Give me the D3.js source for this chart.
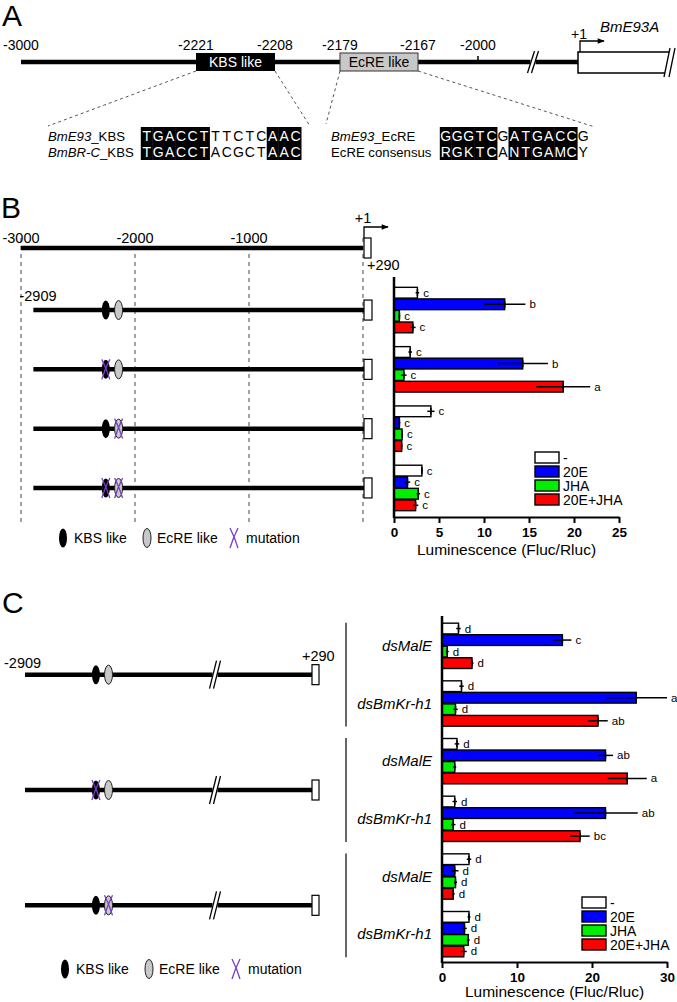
<!DOCTYPE html>
<html><head><meta charset="utf-8">
<script src="https://cdn.jsdelivr.net/npm/d3@7"></script>
<style>body{margin:0;background:#fff} svg{display:block}</style>
</head><body>
<svg id="fig" width="677" height="1002"></svg>
<script>
// ================= DATA =================
const seriesNames = ["-", "20E", "JHA", "20E+JHA"];
const seriesColors = ["#ffffff", "#0000ff", "#00ee00", "#ff0000"];

// Panel A map
const mapTicks = [-3000, -2221, -2208, -2179, -2167, -2000];
const kbsLabels = [["BmE93", "_KBS"], ["BmBR-C", "_KBS"]];
const kbsSeqs = ["TGACCTTTCTCAAC", "TGACCTACGCTAAC"];
const kbsHighlight = [0, 1, 2, 3, 4, 5, 11, 12, 13];
const ecreLabels = [["BmE93", "_EcRE"], ["", "EcRE consensus"]];
const ecreSeqs = ["GGGTCGATGACCG", "RGKTCANTGAMCY"];
const ecreHighlight = [0, 1, 2, 3, 4, 6, 7, 8, 9, 10, 11];

// Panel B
const bMapTicks = [-3000, -2000, -1000];
const bMutations = [[false, false], [true, false], [false, true], [true, true]];
const bMean = [
  [2.6, 12.3, 0.6, 2.1],
  [1.8, 14.3, 1.1, 18.8],
  [4.1, 0.6, 0.9, 0.85],
  [3.1, 1.5, 2.7, 2.4]
];
const bErr = [
  [0.2, 2.3, 0.1, 0.3],
  [0.2, 2.8, 0.3, 3.0],
  [0.4, 0.1, 0.1, 0.1],
  [0.1, 0.3, 0.2, 0.3]
];
const bLetters = [
  ["c", "b", "c", "c"],
  ["c", "b", "c", "a"],
  ["c", "c", "c", "c"],
  ["c", "c", "c", "c"]
];
const bTicks = [0, 5, 10, 15, 20, 25];

// Panel C
const cGroups = ["dsMalE", "dsBmKr-h1", "dsMalE", "dsBmKr-h1", "dsMalE", "dsBmKr-h1"];
const cMutations = [[false, false], [true, false], [false, true]];
const cMean = [
  [2.2, 16.05, 0.7, 4.0],
  [2.6, 25.9, 1.8, 20.8],
  [2.0, 21.8, 1.7, 24.7],
  [1.7, 21.8, 1.5, 18.4],
  [3.6, 1.7, 1.8, 1.5],
  [3.6, 3.0, 3.5, 2.9]
];
const cErr = [
  [0.3, 1.2, 0.2, 0.2],
  [0.3, 4.1, 0.3, 1.3],
  [0.3, 1.0, 0.2, 2.6],
  [0.3, 4.3, 0.3, 1.3],
  [0.3, 0.5, 0.2, 0.2],
  [0.2, 0.3, 0.2, 0.4]
];
const cLetters = [
  ["d", "c", "d", "d"],
  ["d", "a", "d", "ab"],
  ["d", "ab", "", "a"],
  ["d", "ab", "d", "bc"],
  ["d", "d", "d", "d"],
  ["d", "d", "d", "d"]
];
const cTicks = [0, 10, 20, 30];
const xLabel = "Luminescence (Fluc/Rluc)";

// ================= DRAWING =================
const svg = d3.select("#fig");
const F = '"Liberation Sans", Arial, Helvetica, sans-serif';
const MUT = "#7a3cc8";

function addText(sel, x, y, s, o = {}) {
  return sel.append("text").attr("x", x).attr("y", y).text(s)
    .attr("font-size", o.size || 14).attr("font-family", F)
    .attr("text-anchor", o.anchor || "start")
    .attr("fill", o.fill || "#000")
    .attr("font-style", o.italic ? "italic" : null)
    .attr("font-weight", o.bold ? "bold" : null);
}
function line(sel, x1, y1, x2, y2, w, col, dash) {
  return sel.append("line").attr("x1", x1).attr("y1", y1).attr("x2", x2).attr("y2", y2)
    .attr("stroke", col || "#000").attr("stroke-width", w || 1)
    .attr("stroke-dasharray", dash || null);
}
function drawBreak(sel, x, y, h, gap) {
  sel.append("rect").attr("x", x - gap / 2).attr("y", y - 4).attr("width", gap).attr("height", 8).attr("fill", "#fff");
  line(sel, x - gap / 2 - 3, y + h, x - gap / 2 + 4, y - h, 1.3);
  line(sel, x + gap / 2 - 4, y + h, x + gap / 2 + 3, y - h, 1.3);
}
function kbsEll(sel, cx, cy) {
  sel.append("ellipse").attr("cx", cx).attr("cy", cy).attr("rx", 4).attr("ry", 9.5).attr("fill", "#000");
}
function ecreEll(sel, cx, cy) {
  sel.append("ellipse").attr("cx", cx).attr("cy", cy).attr("rx", 4).attr("ry", 9.5)
    .attr("fill", "#c8c8c8").attr("stroke", "#222").attr("stroke-width", 1);
}
function mutX(sel, cx, cy) {
  const p = `M${cx - 4},${cy - 10} Q${cx + 1},${cy} ${cx + 4},${cy + 10} M${cx + 4},${cy - 10} Q${cx - 1},${cy} ${cx - 4},${cy + 10}`;
  sel.append("path").attr("d", p).attr("fill", "none").attr("stroke", MUT).attr("stroke-width", 1.3);
}

const defs = svg.append("defs");
defs.append("marker").attr("id", "arr").attr("viewBox", "0 0 10 10").attr("refX", 9).attr("refY", 5)
  .attr("markerWidth", 8).attr("markerHeight", 7).attr("orient", "auto").attr("markerUnits", "userSpaceOnUse")
  .append("path").attr("d", "M0,1 L10,5 L0,9 z").attr("fill", "#000");

// ---------- Panel A ----------
const gA = svg.append("g");
addText(gA, 2, 26, "A", { size: 30 });
const mapX = d3.scaleLinear().domain([...mapTicks, 1]).range([21, 196, 275, 340, 418, 478, 578]);
const aY = 62;
line(gA, mapX(-3000), aY, mapX(1), aY, 4.5);
drawBreak(gA, 533, aY, 11, 5);
line(gA, mapX(-2000), aY - 6, mapX(-2000), aY, 1.5);
mapTicks.forEach(t => addText(gA, mapX(t), 50, String(t), { size: 14, anchor: "middle" }));
// boxes
gA.append("rect").attr("x", mapX(-2221)).attr("y", 53).attr("width", mapX(-2208) - mapX(-2221)).attr("height", 18).attr("fill", "#000");
addText(gA, (mapX(-2221) + mapX(-2208)) / 2, 67, "KBS like", { anchor: "middle", fill: "#fff" });
gA.append("rect").attr("x", mapX(-2179)).attr("y", 53).attr("width", mapX(-2167) - mapX(-2179)).attr("height", 18)
  .attr("fill", "#c8c8c8").attr("stroke", "#333").attr("stroke-width", 1);
addText(gA, (mapX(-2179) + mapX(-2167)) / 2, 67, "EcRE like", { anchor: "middle" });
// gene box
gA.append("path").attr("d", `M669,52 H${mapX(1)} V73 H665`).attr("fill", "#fff").attr("stroke", "#000").attr("stroke-width", 1.5);
line(gA, 664, 77, 670, 48, 1.3);
line(gA, 669, 77, 675, 48, 1.3);
gA.append("path").attr("d", `M${mapX(1) + 2},52 V41 H604`).attr("fill", "none").attr("stroke", "#000").attr("stroke-width", 1.3).attr("marker-end", "url(#arr)");
addText(gA, 571, 39, "+1", { size: 14 });
addText(gA, 600, 32, "BmE93A", { size: 15, italic: true });
// sequences
const pitch = 11.45, kbsSeqX = 141, ecreSeqX = 440, rowY = [141, 157], rowTop = [127, 144], rowH = [17, 16];
const dashCol = "#555";
line(gA, mapX(-2221), 71, 48, 126, 1, dashCol, "3,3");
line(gA, mapX(-2208), 71, kbsSeqX + pitch * 14 + 8, 125, 1, dashCol, "3,3");
line(gA, mapX(-2179), 71, 326, 124, 1, dashCol, "3,3");
line(gA, mapX(-2167), 71, ecreSeqX + pitch * 13 + 6, 127, 1, dashCol, "3,3");

function seqRows(labels, seqs, hl, labelX, seqX) {
  labels.forEach((lab, r) => {
    const t = gA.append("text").attr("x", labelX).attr("y", rowY[r]).attr("font-size", 13.2).attr("font-family", F);
    if (lab[0]) t.append("tspan").attr("font-style", "italic").text(lab[0]);
    t.append("tspan").text(lab[1]);
    seqs[r].split("").forEach((ch, i) => {
      const on = hl.includes(i);
      if (on) gA.append("rect").attr("x", seqX + i * pitch - 0.2).attr("y", rowTop[r]).attr("width", pitch + 0.4).attr("height", rowH[r]).attr("fill", "#000");
      addText(gA, seqX + i * pitch + pitch / 2, rowY[r], ch, { size: 14, anchor: "middle", fill: on ? "#fff" : "#000" });
    });
  });
}
seqRows(kbsLabels, kbsSeqs, kbsHighlight, 48, kbsSeqX);
seqRows(ecreLabels, ecreSeqs, ecreHighlight, 331, ecreSeqX);

// ---------- bar chart helper ----------
function barChart(g, cfg) {
  const x = d3.scaleLinear().domain([0, cfg.xMax]).range([cfg.x0, cfg.x1]);
  const yg = d3.scaleBand().domain(d3.range(cfg.means.length)).range(cfg.band).paddingInner(cfg.pin).paddingOuter(cfg.pout);
  const ys = d3.scaleBand().domain(d3.range(seriesNames.length)).range([0, yg.bandwidth()]);
  cfg.means.forEach((row, gi) => {
    row.forEach((v, si) => {
      const y = yg(gi) + ys(si), h = ys.bandwidth(), cy = y + h / 2;
      g.append("rect").attr("x", x(0)).attr("y", y + 0.4).attr("width", x(v) - x(0)).attr("height", h - 0.8)
        .attr("fill", seriesColors[si]).attr("stroke", "#000").attr("stroke-width", 1.4);
      const e = cfg.errs[gi][si];
      line(g, x(Math.max(0, v - e)), cy, x(v + e), cy, 1.5);
      line(g, x(v), cy - 3.5, x(v), cy + 3.5, 1.5);
      const L = cfg.letters[gi][si];
      if (L) addText(g, x(v + e) + 4, cy + 4, L, { size: 11.5 });
    });
  });
  // axes
  const ax = g.append("g").attr("transform", `translate(0,${cfg.yBot})`)
    .call(d3.axisBottom(x).tickValues(cfg.ticks).tickSize(6).tickSizeOuter(0).tickPadding(4));
  ax.select(".domain").attr("stroke-width", 2.2);
  ax.selectAll(".tick line").attr("stroke-width", 2);
  ax.selectAll(".tick text").attr("font-size", 13.5).attr("font-weight", "bold").attr("font-family", F);
  line(g, cfg.x0, cfg.yTop, cfg.x0, cfg.yBot + 1, 2.5);
  addText(g, (cfg.x0 + cfg.x1) / 2, cfg.labelY, xLabel, { size: 15.5, anchor: "middle" });
  // legend
  seriesNames.forEach((s, i) => {
    const ly = cfg.legY + i * 14;
    g.append("rect").attr("x", cfg.legX).attr("y", ly).attr("width", 24).attr("height", 11)
      .attr("fill", seriesColors[i]).attr("stroke", "#000").attr("stroke-width", 1.4);
    addText(g, cfg.legX + 28, ly + 11, s, { size: 14 });
  });
  return { x, yg };
}

function legendRow(g, y, x0) {
  kbsEll(g, x0, y);
  addText(g, x0 + 11, y + 5, "KBS like", { size: 14 });
  ecreEll(g, x0 + 84, y);
  addText(g, x0 + 94, y + 5, "EcRE like", { size: 14 });
  mutX(g, x0 + 171, y);
  addText(g, x0 + 183, y + 5, "mutation", { size: 14 });
}

// ---------- Panel B ----------
const gB = svg.append("g");
addText(gB, 1, 218, "B", { size: 30 });
const bChart = barChart(gB, {
  xMax: 25, x0: 394, x1: 619, yTop: 277, yBot: 517, band: [281, 517], pin: 0.22, pout: 0.1,
  means: bMean, errs: bErr, letters: bLetters, ticks: bTicks, labelY: 555, legX: 535, legY: 452
});
const bx = d3.scaleLinear().domain([-3000, 0]).range([21, 363]);
const bTopY = 248;
[...bMapTicks, 0].forEach(t => line(gB, bx(t), 238, bx(t), 522, 1.2, "#666", "4,4"));
line(gB, bx(-3000), bTopY, bx(0), bTopY, 4.5);
bMapTicks.forEach(t => addText(gB, bx(t), 243, String(t), { size: 14.5, anchor: "middle" }));
gB.append("rect").attr("x", bx(0) + 1).attr("y", 238).attr("width", 7).attr("height", 20).attr("fill", "#fff").attr("stroke", "#000").attr("stroke-width", 1.2);
gB.append("path").attr("d", `M${bx(0) + 1},238 V227 H388`).attr("fill", "none").attr("stroke", "#000").attr("stroke-width", 1.3).attr("marker-end", "url(#arr)");
addText(gB, bx(0), 223, "+1", { size: 14.5, anchor: "middle" });
addText(gB, bx(0) + 4, 270, "+290", { size: 14.5 });
addText(gB, 38, 301, "-2909", { size: 14.5, anchor: "middle" });
bMutations.forEach((m, i) => {
  const cy = bChart.yg(i) + bChart.yg.bandwidth() / 2;
  line(gB, bx(-2909) + 2, cy, bx(0) + 1, cy, 4.5);
  const kx = bx(-2221) - 4, ex = bx(-2179) + 4;
  kbsEll(gB, kx, cy); ecreEll(gB, ex, cy);
  if (m[0]) mutX(gB, kx, cy);
  if (m[1]) mutX(gB, ex, cy);
  gB.append("rect").attr("x", bx(0) + 1).attr("y", cy - 10).attr("width", 8).attr("height", 20).attr("fill", "#fff").attr("stroke", "#000").attr("stroke-width", 1.2);
});
legendRow(gB, 538, 63);

// ---------- Panel C ----------
const gC = svg.append("g");
addText(gC, 2, 613, "C", { size: 30 });
const cChart = barChart(gC, {
  xMax: 30, x0: 442, x1: 667, yTop: 616, yBot: 962, band: [617, 963], pin: 0.2, pout: 0.1,
  means: cMean, errs: cErr, letters: cLetters, ticks: cTicks, labelY: 997, legX: 582, legY: 897
});
const bw = cChart.yg.bandwidth();
cGroups.forEach((name, i) => addText(gC, 432, cChart.yg(i) + bw / 2 + 5, name, { size: 15, italic: true, anchor: "end" }));
cMutations.forEach((m, k) => {
  const yA = cChart.yg(2 * k), yB = cChart.yg(2 * k + 1) + bw;
  line(gC, 346, yA, 346, yB, 1.2);
  const cy = (yA + yB) / 2;
  const cx = d3.scaleLinear().domain([-2909, -2000]).range([25, 124]);
  line(gC, cx(-2909), cy, 313, cy, 4.5);
  drawBreak(gC, 215, cy, 14, 5);
  const kx = cx(-2221) - 4, ex = cx(-2179) + 4;
  kbsEll(gC, kx, cy); ecreEll(gC, ex, cy);
  if (m[0]) mutX(gC, kx, cy);
  if (m[1]) mutX(gC, ex, cy);
  gC.append("rect").attr("x", 312).attr("y", cy - 10).attr("width", 7).attr("height", 20).attr("fill", "#fff").attr("stroke", "#000").attr("stroke-width", 1.2);
  if (k === 0) {
    addText(gC, 4, cy - 7, "-2909", { size: 14.5 });
    addText(gC, 302, cy - 14, "+290", { size: 14.5 });
  }
});
legendRow(gC, 969, 65);
</script>
</body></html>
